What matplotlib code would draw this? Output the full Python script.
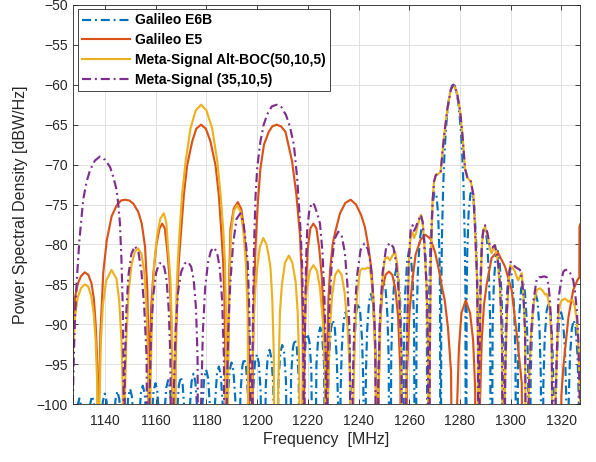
import matplotlib
matplotlib.use("Agg")
import matplotlib.pyplot as plt

plt.rcParams['font.family'] = ['Liberation Sans', 'DejaVu Sans']

# ---------------- data (frequency MHz, PSD dBW/Hz) ----------------
labels = ["Galileo E6B", "Galileo E5", "Meta-Signal Alt-BOC(50,10,5)", "Meta-Signal (35,10,5)"]
x_ticks = [1140, 1160, 1180, 1200, 1220, 1240, 1260, 1280, 1300, 1320]
y_ticks = [-100, -95, -90, -85, -80, -75, -70, -65, -60, -55, -50]

e6b_points = [
    (1127.4,-130),(1128.4,-103.9),(1129.15,-100.3),(1129.9,-99.3),(1130.65,-100.3),(1131.4,-103.9),
    (1132.4,-130),(1133.4,-103.6),(1134.15,-100.0),(1134.9,-99.0),(1135.65,-100.0),(1136.4,-103.6),
    (1137.4,-130),(1138.4,-103.3),(1139.15,-99.7),(1139.9,-98.7),(1140.65,-99.7),(1141.4,-103.3),
    (1142.4,-130),(1143.4,-103.0),(1144.15,-99.4),(1144.9,-98.4),(1145.65,-99.4),(1146.4,-103.0),
    (1147.4,-130),(1148.4,-102.7),(1149.15,-99.1),(1149.9,-98.1),(1150.65,-99.1),(1151.4,-102.7),
    (1152.4,-130),(1153.4,-102.3),(1154.15,-98.7),(1154.9,-97.7),(1155.65,-98.7),(1156.4,-102.3),
    (1157.4,-130),(1158.4,-102.0),(1159.15,-98.4),(1159.9,-97.4),(1160.65,-98.4),(1161.4,-102.0),
    (1162.4,-130),(1163.4,-101.6),(1164.15,-98.0),(1164.9,-97.0),(1165.65,-98.0),(1166.4,-101.6),
    (1167.4,-130),(1168.4,-101.2),(1169.15,-97.6),(1169.9,-96.6),(1170.65,-97.6),(1171.4,-101.2),
    (1172.4,-130),(1173.4,-100.8),(1174.15,-97.2),(1174.9,-96.2),(1175.65,-97.2),(1176.4,-100.8),
    (1177.4,-130),(1178.4,-100.3),(1179.15,-96.7),(1179.9,-95.7),(1180.65,-96.7),(1181.4,-100.3),
    (1182.4,-130),(1183.4,-99.9),(1184.15,-96.3),(1184.9,-95.3),(1185.65,-96.3),(1186.4,-99.9),
    (1187.4,-130),(1188.4,-99.4),(1189.15,-95.8),(1189.9,-94.8),(1190.65,-95.8),(1191.4,-99.4),
    (1192.4,-130),(1193.4,-98.9),(1194.15,-95.3),(1194.9,-94.3),(1195.65,-95.3),(1196.4,-98.9),
    (1197.4,-130),(1198.4,-98.4),(1199.15,-94.8),(1199.9,-93.8),(1200.65,-94.8),(1201.4,-98.4),
    (1202.4,-130),(1203.4,-97.8),(1204.15,-94.2),(1204.9,-93.2),(1205.65,-94.2),(1206.4,-97.8),
    (1207.4,-130),(1208.4,-97.2),(1209.15,-93.6),(1209.9,-92.6),(1210.65,-93.6),(1211.4,-97.2),
    (1212.4,-130),(1213.4,-96.5),(1214.15,-92.9),(1214.9,-91.9),(1215.65,-92.9),(1216.4,-96.5),
    (1217.4,-130),(1218.4,-95.8),(1219.15,-92.2),(1219.9,-91.2),(1220.65,-92.2),(1221.4,-95.8),
    (1222.4,-130),(1223.4,-95.0),(1224.15,-91.4),(1224.9,-90.4),(1225.65,-91.4),(1226.4,-95.0),
    (1227.4,-130),(1227.9,-99.7),(1228.4,-94.1),(1229.15,-90.5),(1229.9,-89.5),(1230.65,-90.5),(1231.4,-94.1),(1231.9,-99.7),
    (1232.4,-130),(1232.9,-98.7),(1233.4,-93.1),(1234.15,-89.5),(1234.9,-88.5),(1235.65,-89.5),(1236.4,-93.1),(1236.9,-98.7),
    (1237.4,-130),(1237.9,-97.6),(1238.4,-92.0),(1239.15,-88.4),(1239.9,-87.4),(1240.65,-88.4),(1241.4,-92.0),(1241.9,-97.6),
    (1242.4,-130),(1242.9,-96.4),(1243.4,-90.8),(1244.15,-87.2),(1244.9,-86.2),(1245.65,-87.2),(1246.4,-90.8),(1246.9,-96.4),
    (1247.4,-130),(1247.9,-95.6),(1248.4,-89.8),(1249.15,-86.0),(1249.9,-84.8),(1250.65,-85.5),(1251.4,-88.9),(1251.9,-94.3),
    (1252.4,-130),(1252.9,-94.0),(1253.4,-88.2),(1254.15,-84.3),(1254.9,-83.0),(1255.65,-83.7),(1256.4,-87.0),(1256.9,-92.4),
    (1257.4,-130),(1257.9,-92.0),(1258.4,-86.2),(1259.15,-82.2),(1259.9,-80.8),(1260.65,-81.4),(1261.4,-84.7),(1261.9,-90.0),
    (1262.4,-130),(1262.9,-89.4),(1263.4,-83.5),(1264.15,-79.4),(1264.9,-77.9),(1265.65,-78.4),(1266.4,-81.4),(1266.9,-86.6),
    (1267.4,-130),(1267.65,-91.8),(1267.9,-85.7),(1268.4,-79.7),(1269.15,-75.3),(1269.9,-73.5),(1270.65,-73.6),(1271.4,-76.2),(1271.9,-81.0),(1272.15,-86.5),
    (1272.4,-130),(1272.65,-85.6),(1272.9,-79.2),(1273.4,-72.6),(1273.9,-68.7),(1274.4,-65.9),(1274.9,-63.9),(1275.4,-62.4),(1275.9,-61.3),(1276.4,-60.6),(1276.9,-60.1),
    (1277.4,-60.0),(1277.9,-60.1),(1278.4,-60.6),(1278.9,-61.3),(1279.4,-62.4),(1279.9,-63.9),(1280.4,-65.9),(1280.9,-68.7),(1281.4,-72.6),(1281.9,-79.2),(1282.15,-85.6),
    (1282.4,-130),(1282.65,-86.5),(1282.9,-81.0),(1283.4,-76.2),(1284.15,-73.6),(1284.9,-73.5),(1285.65,-75.3),(1286.4,-79.7),(1286.9,-85.7),(1287.15,-91.8),
    (1287.4,-130),(1287.9,-86.6),(1288.4,-81.4),(1289.15,-78.4),(1289.9,-77.9),(1290.65,-79.4),(1291.4,-83.5),(1291.9,-89.4),
    (1292.4,-130),(1292.9,-90.0),(1293.4,-84.7),(1294.15,-81.4),(1294.9,-80.8),(1295.65,-82.2),(1296.4,-86.2),(1296.9,-92.0),
    (1297.4,-130),(1297.9,-92.4),(1298.4,-87.0),(1299.15,-83.7),(1299.9,-83.0),(1300.65,-84.3),(1301.4,-88.2),(1301.9,-94.0),
    (1302.4,-130),(1302.9,-94.3),(1303.4,-88.9),(1304.15,-85.5),(1304.9,-84.8),(1305.65,-86.0),(1306.4,-89.8),(1306.9,-95.6),
    (1307.4,-130),(1307.9,-96.4),(1308.4,-90.8),(1309.15,-87.2),(1309.9,-86.2),(1310.65,-87.2),(1311.4,-90.8),(1311.9,-96.4),
    (1312.4,-130),(1312.9,-97.6),(1313.4,-92.0),(1314.15,-88.4),(1314.9,-87.4),(1315.65,-88.4),(1316.4,-92.0),(1316.9,-97.6),
    (1317.4,-130),(1317.9,-98.7),(1318.4,-93.1),(1319.15,-89.5),(1319.9,-88.5),(1320.65,-89.5),(1321.4,-93.1),(1321.9,-98.7),
    (1322.4,-130),(1322.9,-99.7),(1323.4,-94.1),(1324.15,-90.5),(1324.9,-89.5),(1325.65,-90.5),(1326.4,-94.1),(1326.9,-99.7),
    (1327.4,-130),
]

e5_points = [
    (1127.0,-94.0),(1127.5,-90.0),(1128.2,-86.6),(1129.2,-85.0),(1130.5,-84.0),(1132.0,-83.5),(1133.4,-83.8),(1134.7,-84.9),
    (1135.6,-86.8),(1136.3,-89.9),(1136.8,-93.5),(1137.2,-100.0),(1137.4,-130),
    (1137.6,-100.0),(1138.2,-91.0),(1138.7,-87.8),(1139.3,-83.6),(1140.7,-79.5),(1142.6,-76.5),(1144.6,-75.1),(1146.3,-74.5),
    (1147.9,-74.4),(1149.6,-74.5),(1151.2,-74.9),(1153.1,-75.9),(1154.5,-77.4),(1155.8,-80.3),(1156.7,-85.7),(1157.1,-92.0),(1157.4,-130),
    (1157.6,-95.0),(1158.2,-88.0),(1159.1,-83.6),(1160.3,-80.0),(1161.5,-78.0),(1162.6,-77.4),(1163.6,-78.0),(1164.5,-80.5),
    (1165.3,-83.5),(1165.9,-87.0),(1166.4,-93.0),(1167.2,-130),
    (1167.8,-95.0),(1168.5,-86.3),(1169.1,-82.2),(1170.1,-78.0),(1171.1,-73.8),(1172.4,-70.1),(1174.4,-67.1),(1176.0,-65.5),
    (1177.9,-65.0),(1179.8,-65.5),(1181.6,-67.1),(1183.6,-70.1),(1184.9,-73.8),(1185.8,-78.0),(1186.6,-82.2),(1187.1,-86.5),
    (1187.5,-95.0),(1187.9,-130),
    (1188.5,-95.0),(1189.0,-84.0),(1189.5,-78.0),(1190.8,-75.5),(1192.4,-74.7),(1193.8,-75.6),(1194.8,-78.0),(1195.8,-82.2),
    (1196.4,-88.0),(1196.8,-95.0),(1197.7,-130),
    (1198.3,-95.0),(1198.8,-86.0),(1199.4,-80.1),(1200.3,-74.7),(1201.3,-70.5),(1202.7,-67.5),(1204.6,-65.9),(1206.0,-65.2),
    (1207.7,-65.0),(1209.4,-65.2),(1211.2,-65.9),(1213.8,-69.6),(1215.5,-73.8),(1216.9,-78.8),(1217.5,-83.0),(1218.0,-90.0),(1218.2,-130),
    (1218.6,-95.0),(1219.2,-86.0),(1220.0,-80.5),(1221.0,-78.0),(1222.2,-77.4),(1223.4,-78.0),(1224.5,-80.5),(1225.5,-84.0),
    (1226.3,-89.0),(1226.9,-96.0),(1227.3,-130),
    (1227.6,-95.0),(1228.1,-87.0),(1228.8,-83.2),(1229.8,-80.0),(1230.7,-78.6),(1232.7,-76.1),(1234.8,-74.8),(1236.9,-74.4),
    (1239.0,-75.0),(1241.0,-76.3),(1242.5,-77.8),(1244.0,-80.5),(1245.2,-83.5),(1246.2,-89.0),(1246.8,-96.0),(1247.3,-130),
    (1247.8,-100.0),(1248.5,-90.0),(1249.5,-85.5),(1250.7,-83.8),(1252.0,-83.4),(1253.3,-83.8),(1254.5,-85.5),(1255.6,-89.0),
    (1256.5,-96.0),(1257.0,-130),
    (1258.6,-130),(1259.1,-96.0),(1260.1,-88.5),(1261.2,-84.7),(1262.5,-81.3),(1264.5,-79.4),(1266.4,-78.8),(1268.4,-79.3),
    (1270.2,-81.0),(1271.7,-83.2),(1273.0,-85.5),(1274.0,-87.0),(1275.3,-90.5),(1276.5,-96.0),(1277.4,-130),
    (1278.4,-130),(1278.9,-100.0),(1279.6,-93.0),(1280.6,-88.6),(1282.3,-87.0),(1284.0,-88.6),(1285.2,-92.0),(1286.0,-98.0),(1286.6,-130),
    (1287.3,-130),(1287.9,-100.0),(1288.6,-92.0),(1289.5,-87.5),(1290.6,-84.9),(1292.5,-81.7),(1294.8,-80.9),(1297.8,-82.8),
    (1300.4,-85.7),(1302.4,-91.2),(1304.4,-97.4),(1305.0,-130),
    (1319.5,-130),(1320.0,-99.0),(1320.8,-95.3),(1322.8,-89.1),(1324.7,-85.7),(1326.3,-84.5),(1327.1,-84.1),(1327.15,-77.8),(1327.4,-77.5),
]

altboc_points = [
    (1127.0,-97.0),(1127.5,-92.5),(1128.2,-89.0),(1129.2,-86.7),(1130.5,-85.5),(1132.0,-85.0),(1133.4,-85.3),(1134.6,-86.5),
    (1135.6,-88.8),(1136.3,-92.0),(1136.9,-97.0),(1137.4,-130),
    (1137.8,-100.0),(1138.4,-92.0),(1139.2,-87.5),(1140.5,-84.5),(1142.6,-83.2),(1144.5,-84.3),(1145.6,-87.0),(1146.5,-92.0),
    (1147.0,-98.0),(1147.4,-130),
    (1147.8,-100.0),(1148.4,-92.0),(1149.3,-86.0),(1150.5,-82.5),(1151.8,-80.9),(1153.1,-80.5),(1154.4,-81.2),(1155.5,-83.5),
    (1156.4,-88.0),(1157.0,-95.0),(1157.6,-130),
    (1158.0,-97.0),(1158.6,-88.0),(1159.4,-82.5),(1160.5,-79.0),(1161.8,-76.8),(1163.2,-76.1),(1164.2,-77.3),(1164.8,-80.1),
    (1165.8,-84.3),(1166.5,-92.0),(1167.0,-130),
    (1167.4,-130),(1167.8,-92.0),(1168.2,-86.3),(1168.7,-82.2),(1169.5,-78.0),(1170.4,-73.8),(1171.8,-69.6),(1173.7,-65.5),
    (1175.8,-63.2),(1177.9,-62.5),(1180.0,-63.2),(1182.3,-65.5),(1184.3,-69.6),(1185.6,-73.8),(1186.6,-78.0),(1187.3,-82.2),
    (1187.7,-88.0),(1188.0,-130),
    (1188.6,-95.0),(1189.1,-85.0),(1189.7,-78.6),(1190.8,-75.8),(1192.1,-75.1),(1193.5,-75.9),(1194.6,-78.4),(1195.6,-82.5),
    (1196.3,-89.0),(1196.8,-130),
    (1197.9,-98.0),(1198.6,-90.0),(1199.3,-85.5),(1200.0,-83.0),(1201.1,-80.3),(1202.4,-79.2),(1203.7,-80.0),(1204.6,-81.5),
    (1205.3,-83.0),(1206.0,-87.0),(1206.6,-94.0),(1207.1,-130),
    (1208.2,-100.0),(1209.0,-88.5),(1209.8,-85.0),(1211.0,-82.3),(1212.5,-81.4),(1213.9,-82.3),(1215.2,-84.7),(1216.0,-88.5),
    (1216.6,-95.0),(1217.1,-130),
    (1217.8,-100.0),(1218.5,-91.0),(1219.5,-86.0),(1220.8,-83.3),(1222.2,-82.6),(1223.6,-83.3),(1224.8,-85.5),(1225.9,-89.5),
    (1226.8,-96.0),(1227.4,-130),
    (1227.9,-100.0),(1228.6,-91.0),(1229.6,-86.3),(1230.8,-83.8),(1232.0,-83.2),(1233.3,-83.8),(1234.5,-86.0),(1235.6,-90.0),
    (1236.6,-96.0),(1237.3,-130),
    (1237.9,-100.0),(1238.6,-91.0),(1239.5,-86.0),(1240.6,-83.3),(1241.6,-83.0),(1242.6,-83.1),(1243.6,-82.9),(1244.5,-83.0),
    (1245.3,-85.0),(1246.2,-90.0),(1246.8,-96.0),(1247.3,-130),
    (1247.9,-100.0),(1248.6,-90.0),(1249.4,-84.5),(1250.4,-81.8),(1251.4,-81.6),(1252.4,-82.0),(1253.4,-81.4),(1254.4,-80.9),
    (1255.3,-82.5),(1256.2,-87.0),(1256.9,-95.0),(1257.4,-130),
    (1258.7,-100.0),(1259.3,-90.0),(1259.9,-82.0),(1260.6,-78.8),(1261.3,-78.5),(1261.9,-79.2),(1262.7,-78.6),(1263.3,-77.6),
    (1264.6,-76.3),(1265.3,-77.2),(1265.9,-79.7),(1266.9,-85.5),(1267.4,-93.0),(1267.8,-130),
    (1268.1,-95.0),(1268.5,-82.0),(1269.2,-74.6),(1269.8,-72.1),(1270.5,-71.3),(1271.3,-71.2),(1271.8,-71.1),(1272.4,-70.9),
    (1273.1,-68.5),(1273.8,-66.3),(1275.1,-62.9),(1276.4,-60.6),(1277.4,-60.0),(1278.8,-60.9),(1280.1,-63.4),(1281.0,-66.3),
    (1282.0,-70.5),(1283.0,-71.7),(1284.3,-72.1),(1285.3,-73.8),(1285.9,-77.6),(1286.7,-83.8),(1287.1,-92.0),(1287.3,-130),
    (1287.7,-95.0),(1288.2,-85.0),(1288.7,-79.8),(1289.3,-78.2),(1289.9,-77.8),(1290.8,-78.8),(1291.8,-80.5),(1292.5,-81.1),
    (1293.2,-80.5),(1293.8,-80.3),(1294.8,-81.8),(1295.8,-85.5),(1296.6,-92.0),(1297.1,-130),
    (1297.8,-97.0),(1298.5,-89.0),(1299.1,-85.5),(1299.8,-82.6),(1300.7,-82.9),(1301.7,-83.4),(1302.4,-84.1),(1303.0,-84.5),
    (1303.7,-84.0),(1304.4,-83.6),(1305.0,-86.1),(1305.7,-91.0),(1306.3,-130),
    (1307.2,-98.0),(1308.0,-91.5),(1309.0,-87.5),(1310.3,-85.7),(1311.6,-85.5),(1312.6,-85.8),(1313.6,-86.3),(1314.3,-86.2),
    (1314.9,-87.0),(1315.5,-88.5),(1316.2,-92.5),(1316.9,-130),
    (1317.8,-98.0),(1318.8,-89.0),(1319.5,-87.5),(1320.1,-87.0),(1321.5,-86.8),(1322.2,-87.0),(1322.8,-87.2),(1323.6,-87.0),
    (1324.5,-87.0),(1325.3,-87.8),(1326.1,-89.5),(1326.8,-93.0),(1327.4,-100.0),
]

meta_points = [
    (1127.3,-100.0),(1127.7,-94.0),(1128.2,-89.0),(1128.8,-84.9),(1129.9,-79.5),(1131.4,-74.4),(1132.7,-72.2),(1134.1,-70.7),
    (1136.0,-69.5),(1138.0,-69.0),(1140.0,-69.4),(1142.0,-70.3),(1143.5,-71.8),(1144.6,-73.2),(1145.4,-75.5),(1145.9,-77.4),
    (1146.5,-82.0),(1147.0,-87.8),(1147.3,-95.0),(1147.5,-130),
    (1147.8,-96.0),(1148.4,-88.5),(1149.2,-84.0),(1150.4,-81.2),(1151.8,-80.2),(1153.2,-81.0),(1154.4,-83.5),(1155.5,-88.0),
    (1156.4,-94.0),(1157.1,-130),
    (1157.5,-100.0),(1158.2,-91.0),(1159.0,-86.5),(1160.2,-83.5),(1161.4,-82.4),(1162.4,-82.3),(1163.4,-82.9),(1164.3,-84.5),
    (1165.1,-88.0),(1165.8,-94.0),(1166.3,-130),
    (1167.0,-100.0),(1167.8,-91.0),(1168.8,-86.0),(1170.0,-83.5),(1171.4,-82.4),(1172.8,-82.2),(1174.0,-82.8),(1175.0,-84.5),
    (1175.9,-88.0),(1176.5,-94.0),(1177.0,-130),
    (1177.9,-100.0),(1178.6,-91.0),(1179.5,-85.5),(1180.6,-82.3),(1181.8,-80.8),(1183.0,-80.4),(1184.2,-81.0),(1185.3,-83.0),
    (1186.2,-87.0),(1186.9,-94.0),(1187.4,-130),
    (1188.0,-100.0),(1188.6,-91.0),(1189.4,-85.0),(1190.5,-80.0),(1191.9,-76.8),(1193.4,-76.1),(1194.6,-77.3),(1195.5,-79.6),
    (1196.3,-82.2),(1196.9,-88.0),(1197.3,-95.0),(1197.6,-130),
    (1198.0,-100.0),(1198.4,-88.0),(1198.8,-80.0),(1199.4,-73.8),(1200.1,-70.2),(1201.3,-67.1),(1202.6,-65.0),(1204.0,-63.7),
    (1205.8,-62.7),(1207.7,-62.5),(1209.6,-62.8),(1211.4,-63.8),(1212.9,-65.2),(1214.5,-67.5),(1215.8,-71.7),(1216.6,-75.5),
    (1217.1,-78.0),(1217.8,-83.0),(1218.2,-90.0),(1218.5,-130),
    (1218.8,-92.0),(1219.3,-82.0),(1219.8,-78.0),(1220.5,-76.0),(1221.5,-74.8),(1222.5,-75.0),(1223.6,-76.0),(1224.8,-77.4),
    (1225.8,-81.0),(1226.6,-87.0),(1227.1,-95.0),(1227.4,-130),
    (1227.8,-96.0),(1228.5,-88.0),(1229.4,-82.5),(1230.6,-79.3),(1232.0,-78.4),(1233.4,-79.0),(1234.6,-81.0),(1235.6,-85.0),
    (1236.5,-91.0),(1237.3,-130),
    (1237.7,-98.0),(1238.4,-89.0),(1239.4,-84.0),(1240.8,-80.7),(1242.3,-79.9),(1243.7,-80.6),(1244.8,-82.5),(1245.8,-86.5),
    (1246.6,-92.0),(1247.2,-130),
    (1247.8,-98.0),(1248.5,-89.0),(1249.5,-83.5),(1250.9,-80.4),(1252.4,-79.8),(1253.8,-80.4),(1254.9,-82.5),(1256.0,-86.5),
    (1256.9,-93.0),(1257.6,-130),
    (1258.6,-100.0),(1259.2,-90.0),(1259.8,-82.0),(1260.6,-78.0),(1261.3,-77.6),(1261.9,-78.3),(1262.7,-77.8),(1263.3,-77.2),
    (1264.6,-76.3),(1265.3,-77.2),(1265.9,-79.7),(1266.9,-85.5),(1267.4,-93.0),(1267.8,-130),
    (1268.1,-95.0),(1268.5,-82.0),(1269.2,-74.6),(1269.8,-72.1),(1270.5,-71.3),(1271.3,-71.2),(1271.8,-71.1),(1272.4,-70.9),
    (1273.1,-68.5),(1273.8,-66.3),(1275.1,-62.9),(1276.4,-60.6),(1277.4,-60.0),(1278.8,-60.9),(1280.1,-63.4),(1281.0,-66.3),
    (1282.0,-70.5),(1283.0,-71.7),(1284.3,-72.1),(1285.3,-73.8),(1285.9,-77.6),(1286.7,-83.8),(1287.1,-92.0),(1287.3,-130),
    (1287.7,-95.0),(1288.2,-85.0),(1288.7,-79.7),(1289.3,-78.0),(1289.9,-77.6),(1290.8,-78.5),(1291.9,-80.3),(1292.8,-80.4),
    (1293.8,-80.1),(1294.8,-81.5),(1295.8,-85.0),(1296.6,-92.0),(1297.1,-130),
    (1297.8,-97.0),(1298.5,-88.5),(1299.1,-84.9),(1300.0,-82.2),(1300.9,-82.4),(1301.7,-82.8),(1302.7,-83.0),(1303.7,-83.2),
    (1304.4,-84.2),(1305.0,-86.1),(1305.7,-91.0),(1306.3,-130),
    (1307.2,-98.0),(1308.0,-91.5),(1309.0,-87.0),(1310.3,-84.3),(1311.2,-84.1),(1312.2,-84.1),(1313.2,-84.0),(1314.2,-84.1),
    (1314.9,-85.0),(1315.5,-87.0),(1316.2,-91.5),(1316.9,-130),
    (1317.8,-98.0),(1318.8,-87.0),(1319.8,-84.8),(1320.8,-83.4),(1321.6,-83.2),(1322.4,-83.2),(1323.5,-83.6),(1324.7,-84.5),
    (1325.4,-86.0),(1326.1,-88.2),(1326.7,-92.0),(1327.3,-100.0),
]

# ---------------- styling ----------------
colors = ["#0072BD", "#D95319", "#EDB120", "#7E2F8E"]
dashdot = (0, (4.2, 1.8, 0.9, 1.8))
styles = [dashdot, "-", "-", dashdot]
series = [e6b_points, e5_points, altboc_points, meta_points]

fig = plt.figure(figsize=(5.96, 4.62), dpi=100)
W, H = 596.0, 462.0
ax_left, ax_right, ax_top, ax_bottom = 73.3, 579.6, 5.0, 404.0
ax = fig.add_axes([ax_left / W, 1 - ax_bottom / H, (ax_right - ax_left) / W, (ax_bottom - ax_top) / H])

for pts, col, ls, lab in zip(series, colors, styles, labels):
    f = [p[0] for p in pts]
    v = [p[1] for p in pts]
    ax.plot(f, v, color=col, linestyle=ls, linewidth=1.55, label=lab)

ax.set_xlim(1127.5, 1327.2)
ax.set_ylim(-100, -50)
ax.set_xticks(x_ticks)
ax.set_yticks(y_ticks)
ax.grid(True, color="#dcdcdc", linewidth=0.6)
ax.set_axisbelow(True)
for s in ax.spines.values():
    s.set_color("#262626")
    s.set_linewidth(0.6)
ax.tick_params(direction="in", length=3.5, width=0.6, colors="#262626",
               top=True, right=True, labelsize=10)
ax.tick_params(axis="x", pad=7)
ax.tick_params(axis="y", pad=4)
ax.set_xlabel("Frequency  [MHz]", fontsize=11.5, color="#262626", labelpad=3)
ax.set_ylabel("Power Spectral Density [dBW/Hz]", fontsize=11.5, color="#262626", labelpad=6)

leg = ax.legend(loc="upper left", bbox_to_anchor=(0.0087, 0.99), borderaxespad=0,
                prop={"weight": "bold", "size": 10}, handlelength=3.45, handletextpad=0.36,
                labelspacing=0.42, borderpad=0.32, fancybox=False, framealpha=1,
                edgecolor="#262626")
leg.get_frame().set_linewidth(0.6)

fig.savefig("out.png", dpi=100)
